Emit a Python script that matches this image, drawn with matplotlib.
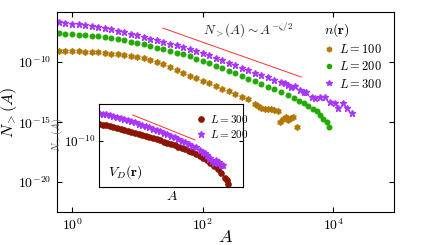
import matplotlib
matplotlib.use("Agg")
import matplotlib.pyplot as plt
import numpy as np

plt.rcParams['mathtext.fontset'] = 'cm'
plt.rcParams['font.family'] = 'serif'
plt.rcParams['font.serif'] = ['DejaVu Serif']

# main panel, n(r): log10(A) and log10(N_>(A))
logA_100 = [-0.2, -0.1, 0.0, 0.1, 0.2, 0.3, 0.4, 0.5, 0.6, 0.7, 0.8, 0.9, 1.0, 1.1, 1.2,
            1.3, 1.4, 1.5, 1.6, 1.7, 1.8, 1.9, 2.0, 2.1, 2.2, 2.3, 2.4, 2.5, 2.6, 2.7,
            2.8, 2.85, 2.9, 2.95, 3.0, 3.05, 3.1, 3.15, 3.19, 3.23, 3.27, 3.31, 3.36, 3.39, 3.44]
logN_100 = [-9.06, -9.07, -9.09, -9.11, -9.14, -9.16, -9.19, -9.24, -9.29, -9.35, -9.41, -9.48,
            -9.55, -9.68, -9.83, -10.0, -10.2, -10.42, -10.66, -10.92, -11.15, -11.35, -11.55,
            -11.77, -12.0, -12.22, -12.45, -12.68, -12.9, -13.12, -13.5, -13.7, -13.82, -13.9,
            -13.88, -13.95, -14.0, -14.1, -15.0, -14.75, -14.55, -14.8, -14.65, -14.55, -15.4]

logA_200 = [-0.2, -0.1, 0.0, 0.1, 0.2, 0.3, 0.4, 0.5, 0.6, 0.7, 0.8, 0.9, 1.0, 1.1, 1.2,
            1.3, 1.4, 1.5, 1.6, 1.7, 1.8, 1.9, 2.0, 2.1, 2.2, 2.3, 2.4, 2.5, 2.6, 2.7,
            2.8, 2.9, 3.0, 3.1, 3.2, 3.3, 3.4, 3.48, 3.55, 3.62, 3.69, 3.75, 3.8, 3.85, 3.9, 3.94]
logN_200 = [-7.62, -7.65, -7.68, -7.72, -7.76, -7.80, -7.85, -7.93, -8.02, -8.11, -8.20, -8.30,
            -8.40, -8.53, -8.66, -8.80, -8.94, -9.08, -9.22, -9.36, -9.53, -9.71, -9.90, -10.09,
            -10.30, -10.51, -10.72, -10.94, -11.16, -11.38, -11.60, -11.82, -12.05, -12.28,
            -12.52, -12.76, -13.01, -13.25, -13.45, -13.68, -13.88, -14.08, -14.38, -14.72,
            -15.02, -15.40]

logA_300 = [-0.2, -0.1, 0.0, 0.1, 0.2, 0.3, 0.4, 0.5, 0.6, 0.7, 0.8, 0.9, 1.0, 1.1, 1.2,
            1.3, 1.4, 1.5, 1.6, 1.7, 1.8, 1.9, 2.0, 2.1, 2.2, 2.3, 2.4, 2.5, 2.6, 2.7,
            2.8, 2.9, 3.0, 3.1, 3.2, 3.26, 3.3, 3.36, 3.42, 3.49, 3.55, 3.59, 3.67, 3.72,
            3.8, 3.87, 3.95, 4.03, 4.08, 4.15, 4.21, 4.28]
logN_300 = [-6.70, -6.74, -6.79, -6.85, -6.91, -6.98, -7.06, -7.16, -7.27, -7.39, -7.51, -7.63,
            -7.76, -7.90, -8.04, -8.18, -8.32, -8.46, -8.60, -8.74, -8.90, -9.07, -9.25, -9.44,
            -9.64, -9.84, -10.05, -10.26, -10.47, -10.68, -10.88, -11.08, -11.27, -11.47,
            -11.66, -11.75, -11.90, -12.05, -12.0, -12.33, -12.48, -12.47, -12.9, -13.03,
            -12.89, -12.89, -13.31, -13.44, -13.8, -13.44, -13.86, -14.25]

# inset, V_D(r)
logA_in300 = [0.0, 0.1, 0.2, 0.3, 0.4, 0.5, 0.6, 0.7, 0.8, 0.9, 1.0, 1.1, 1.2, 1.3, 1.4,
              1.5, 1.6, 1.7, 1.8, 1.9, 2.0, 2.1, 2.2, 2.3, 2.4, 2.5, 2.6, 2.7, 2.8, 2.9,
              3.0, 3.1, 3.2, 3.3, 3.4, 3.5, 3.55, 3.6]
logN_in300 = [-8.61, -8.67, -8.73, -8.79, -8.86, -8.93, -9.01, -9.09, -9.17, -9.25, -9.33,
              -9.42, -9.51, -9.60, -9.69, -9.79, -9.88, -9.97, -10.07, -10.17, -10.28, -10.39,
              -10.5, -10.61, -10.72, -10.84, -10.96, -11.09, -11.24, -11.41, -11.6, -11.82,
              -12.08, -12.38, -12.72, -13.08, -13.3, -13.58]

logA_in200 = [0.0, 0.1, 0.2, 0.3, 0.4, 0.5, 0.6, 0.7, 0.8, 0.9, 1.0, 1.1, 1.2, 1.3, 1.4,
              1.5, 1.6, 1.7, 1.8, 1.9, 2.0, 2.1, 2.2, 2.3, 2.4, 2.5, 2.6, 2.7, 2.8, 2.9,
              2.95, 3.0, 3.05, 3.1, 3.15, 3.2, 3.25, 3.3, 3.35, 3.4, 3.45]
logN_in200 = [-7.67, -7.74, -7.81, -7.88, -7.96, -8.04, -8.12, -8.2, -8.28, -8.38, -8.48,
              -8.58, -8.68, -8.79, -8.9, -9.01, -9.12, -9.23, -9.35, -9.47, -9.6, -9.73,
              -9.86, -10.0, -10.14, -10.28, -10.42, -10.56, -10.8, -10.95, -11.05, -11.2,
              -11.5, -11.45, -11.7, -11.85, -11.6, -11.85, -11.8, -12.05, -12.0]

# guide lines ~ A^{-zeta/2}: endpoints (log10 A, log10 N)
guide_main = ([1.39, 3.51], [-7.17, -11.25])
guide_inset = ([0.94, 2.67], [-7.86, -9.94])

main_xticks = [1e0, 1e2, 1e4]
main_xticklabels = [r'$10^{0}$', r'$10^{2}$', r'$10^{4}$']
main_yticks = [1e-20, 1e-15, 1e-10]
main_yticklabels = [r'$10^{-20}$', r'$10^{-15}$', r'$10^{-10}$']

ORANGE = '#b07800'
GREEN = '#22aa00'
PURPLE = '#a936ff'
DARKRED = '#8b1500'
RED = '#ff3030'


def p10(v):
    return 10.0 ** np.asarray(v)


fig = plt.figure(figsize=(4.36, 2.45), dpi=100)
ax = fig.add_axes([0.1307, 0.1347, 0.773, 0.8163])

ax.plot(p10(logA_100), p10(logN_100), ls='none', marker=(6, 1, 0), ms=4.5,
        color=ORANGE, mec=ORANGE, label=r'$L=100$')
ax.plot(p10(logA_200), p10(logN_200), ls='none', marker='o', ms=3.3,
        color=GREEN, mec=GREEN, label=r'$L=200$')
ax.plot(p10(logA_300), p10(logN_300), ls='none', marker='*', ms=4.8,
        color=PURPLE, mec=PURPLE, label=r'$L=300$')
ax.plot(p10(guide_main[0]), p10(guide_main[1]), color=RED, lw=0.7)

ax.set_xscale('log')
ax.set_yscale('log')
ax.set_xlim(10 ** -0.23, 10 ** 4.93)
ax.set_ylim(10 ** -22.5, 10 ** -5.83)
ax.set_xticks(main_xticks)
ax.set_xticklabels(main_xticklabels)
ax.set_yticks(main_yticks)
ax.set_yticklabels(main_yticklabels)
ax.minorticks_off()
ax.tick_params(direction='in', top=True, right=True, length=3.5, width=0.8,
               labelsize=10, pad=4)
ax.set_xlabel(r'$A$', fontsize=13)
ax.set_ylabel(r'$N_{>}(A)$', fontsize=11.5)
ax.xaxis.set_label_coords(0.5, -0.08)
ax.yaxis.set_label_coords(-0.112, 0.5)

ax.text(0.567, 0.91, r'$N_{>}(A)\sim A^{-\zeta/2}$', transform=ax.transAxes,
        ha='center', va='center', fontsize=9.5, color='#222222')

leg = ax.legend(title=r'$n(\mathbf{r})$', loc='upper left', bbox_to_anchor=(0.765, 1.0),
                frameon=False, fontsize=9, title_fontsize=10, handlelength=0.8,
                handletextpad=0.4, labelspacing=0.35, borderpad=0.2, markerscale=0.9)
leg._legend_box.align = 'left'

# inset
ins = fig.add_axes([0.227, 0.2367, 0.330, 0.339])
ins.plot(p10(logA_in300), p10(logN_in300), ls='none', marker='o', ms=3.8,
         color=DARKRED, mec=DARKRED, label=r'$L=300$')
ins.plot(p10(logA_in200), p10(logN_in200), ls='none', marker='*', ms=4.5,
         color=PURPLE, mec=PURPLE, label=r'$L=200$')
ins.plot(p10(guide_inset[0]), p10(guide_inset[1]), color=RED, lw=0.7)
ins.set_xscale('log')
ins.set_yscale('log')
ins.set_xlim(1e0, 1e4)
ins.set_ylim(10 ** -13.86, 10 ** -6.94)
ins.set_xticks([])
ins.set_yticks([1e-10])
ins.set_yticklabels([r'$10^{-10}$'])
ins.minorticks_off()
ins.tick_params(direction='in', right=True, length=3, width=0.8, labelsize=9.5, pad=2)
ins.set_xlabel(r'$A$', fontsize=10)
ins.xaxis.set_label_coords(0.507, -0.02)
ins.set_ylabel(r'$N_{>}(A)$', fontsize=7.5, color='#666666')
ins.yaxis.set_label_coords(-0.235, 0.63)
ins.text(0.065, 0.18, r'$V_D(\mathbf{r})$', transform=ins.transAxes,
         ha='left', va='center', fontsize=10)
ins.legend(loc='upper left', bbox_to_anchor=(0.63, 0.99), frameon=False, fontsize=8,
           handlelength=0.6, handletextpad=0.5, labelspacing=0.3, borderpad=0.2)

fig.savefig('out.png', dpi=100)
